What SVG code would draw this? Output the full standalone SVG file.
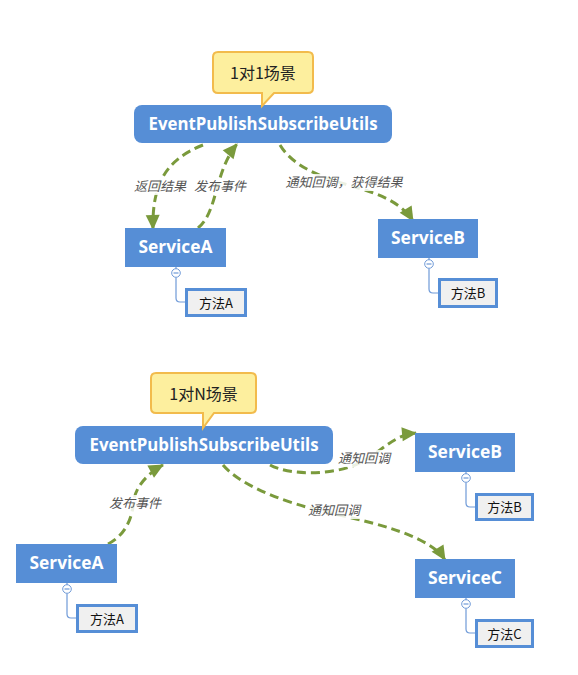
<svg xmlns="http://www.w3.org/2000/svg" width="578" height="675" viewBox="0 0 578 675">
<style>
.callout{fill:#fdef9e;stroke:#f2bb4c;stroke-width:2}
.callout-text{font-family:"Noto Sans CJK SC","Liberation Sans",sans-serif;font-size:16px;fill:#222;text-anchor:middle}
.main{fill:#568ed6}
.main-text{font-family:"Open Sans","Liberation Sans",sans-serif;font-weight:bold;font-size:17px;fill:#fff;text-anchor:middle}
.method{fill:#f0f0f0;stroke:#568ed6;stroke-width:3}
.method-text{font-family:"Noto Sans CJK SC","Liberation Sans",sans-serif;font-size:13px;fill:#111;text-anchor:middle}
.tree{fill:none;stroke:#6f9ad8;stroke-width:1.2}
.toggle{fill:#fff;stroke:#6f9ad8;stroke-width:1}
.conn{fill:none;stroke:#7a9a3c;stroke-width:3;stroke-dasharray:9 5}
.lbl-bg{fill:#fff;opacity:0.85}
.lbl{font-family:"Noto Sans CJK SC","Liberation Sans",sans-serif;font-size:13px;font-style:italic;fill:#555;text-anchor:middle}
</style>
<defs>
<marker id="arrow" markerUnits="userSpaceOnUse" markerWidth="18" markerHeight="18" viewBox="0 0 18 18" refX="15" refY="9" orient="auto">
<path d="M1,2 L16,9 L1,16 Z" fill="#7a9a3c"/>
</marker>
</defs>
<rect width="578" height="675" fill="#fff"/>

<g id="connectors">
<path class="conn" d="M203,145 C165,160 152,185 153,229" marker-end="url(#arrow)"/>
<path class="conn" d="M198,228 C218,212 214,172 237,144" marker-end="url(#arrow)"/>
<path class="conn" d="M280,145 C295,170 330,180 365,190 C390,198 405,208 413,221" marker-end="url(#arrow)"/>
<path class="conn" d="M108,544 C125,535 132,520 134,500 C136,485 150,472 163,465" marker-end="url(#arrow)"/>
<path class="conn" d="M270,465 C290,476 340,476 365,460 C385,448 395,435 416,433" marker-end="url(#arrow)"/>
<path class="conn" d="M223,465 C240,485 280,500 310,508 C350,518 390,525 420,540 C432,546 440,552 445,560" marker-end="url(#arrow)"/>
<rect class="lbl-bg" x="133" y="178" width="54" height="17"/>
<text class="lbl" x="160" y="191">返回结果</text>
<rect class="lbl-bg" x="193" y="178" width="54" height="17"/>
<text class="lbl" x="220" y="191">发布事件</text>
<rect class="lbl-bg" x="284" y="174" width="120" height="17"/>
<text class="lbl" x="344" y="187">通知回调，获得结果</text>
<rect class="lbl-bg" x="108" y="495" width="54" height="17"/>
<text class="lbl" x="135" y="508">发布事件</text>
<rect class="lbl-bg" x="337" y="450" width="54" height="17"/>
<text class="lbl" x="364" y="463">通知回调</text>
<rect class="lbl-bg" x="307" y="502" width="54" height="17"/>
<text class="lbl" x="334" y="515">通知回调</text>
</g>

<g id="utils1">
<rect class="main" x="134" y="105" width="258" height="38" rx="8"/>
<text class="main-text" x="263" y="130" textLength="229" lengthAdjust="spacingAndGlyphs">EventPublishSubscribeUtils</text>
</g>
<g id="callout1">
<path class="callout" d="M218,52 H308 Q313,52 313,57 V88 Q313,93 308,93 H274 L262,106 V93 H218 Q213,93 213,88 V57 Q213,52 218,52 Z"/>
<text class="callout-text" x="263" y="79">1对1场景</text>
</g>

<g id="serviceA1">
<rect class="main" x="125" y="228" width="101" height="39"/>
<text class="main-text" x="175.5" y="253" textLength="74" lengthAdjust="spacingAndGlyphs">ServiceA</text>
<path class="tree" d="M176,267 V269 M176,277.5 V298 Q176,302 180,302 H186"/>
<circle class="toggle" cx="176" cy="273" r="4.3"/>
<path class="tree" d="M173.5,273 H178.5"/>
</g>
<g id="methodA1">
<rect class="method" x="186.5" y="289.5" width="59" height="26"/>
<text class="method-text" x="216" y="307.5">方法A</text>
</g>

<g id="serviceB1">
<rect class="main" x="378" y="219" width="100" height="39"/>
<text class="main-text" x="428" y="244" textLength="74" lengthAdjust="spacingAndGlyphs">ServiceB</text>
<path class="tree" d="M429,258 V260 M429,268.5 V289 Q429,293 433,293 H439"/>
<circle class="toggle" cx="429" cy="264" r="4.3"/>
<path class="tree" d="M426.5,264 H431.5"/>
</g>
<g id="methodB1">
<rect class="method" x="439.5" y="279.5" width="57" height="27"/>
<text class="method-text" x="468" y="297.5">方法B</text>
</g>

<g id="utils2">
<rect class="main" x="75" y="426" width="258" height="38" rx="8"/>
<text class="main-text" x="204" y="451" textLength="229" lengthAdjust="spacingAndGlyphs">EventPublishSubscribeUtils</text>
</g>
<g id="callout2">
<path class="callout" d="M156,373 H251 Q256,373 256,378 V408 Q256,413 251,413 H214 L203,428 V413 H156 Q151,413 151,408 V378 Q151,373 156,373 Z"/>
<text class="callout-text" x="203.5" y="400">1对N场景</text>
</g>

<g id="serviceA2">
<rect class="main" x="16" y="544" width="101" height="39"/>
<text class="main-text" x="66.5" y="569" textLength="74" lengthAdjust="spacingAndGlyphs">ServiceA</text>
<path class="tree" d="M67,583 V585 M67,593.5 V614 Q67,618 71,618 H77"/>
<circle class="toggle" cx="67" cy="589" r="4.3"/>
<path class="tree" d="M64.5,589 H69.5"/>
</g>
<g id="methodA2">
<rect class="method" x="77.5" y="605.5" width="59" height="26"/>
<text class="method-text" x="107" y="623.5">方法A</text>
</g>

<g id="serviceB2">
<rect class="main" x="415" y="433" width="100" height="39"/>
<text class="main-text" x="465" y="458" textLength="74" lengthAdjust="spacingAndGlyphs">ServiceB</text>
<path class="tree" d="M466,472 V474 M466,482.5 V503 Q466,507 470,507 H476"/>
<circle class="toggle" cx="466" cy="478" r="4.3"/>
<path class="tree" d="M463.5,478 H468.5"/>
</g>
<g id="methodB2">
<rect class="method" x="476.5" y="494.5" width="56" height="25"/>
<text class="method-text" x="504.5" y="512">方法B</text>
</g>

<g id="serviceC2">
<rect class="main" x="415" y="559" width="100" height="39"/>
<text class="main-text" x="465" y="584" textLength="74" lengthAdjust="spacingAndGlyphs">ServiceC</text>
<path class="tree" d="M466,598 V600 M466,608.5 V629 Q466,633 470,633 H476"/>
<circle class="toggle" cx="466" cy="604" r="4.3"/>
<path class="tree" d="M463.5,604 H468.5"/>
</g>
<g id="methodC2">
<rect class="method" x="476.5" y="620.5" width="56" height="26"/>
<text class="method-text" x="504.5" y="638.5">方法C</text>
</g>
</svg>
